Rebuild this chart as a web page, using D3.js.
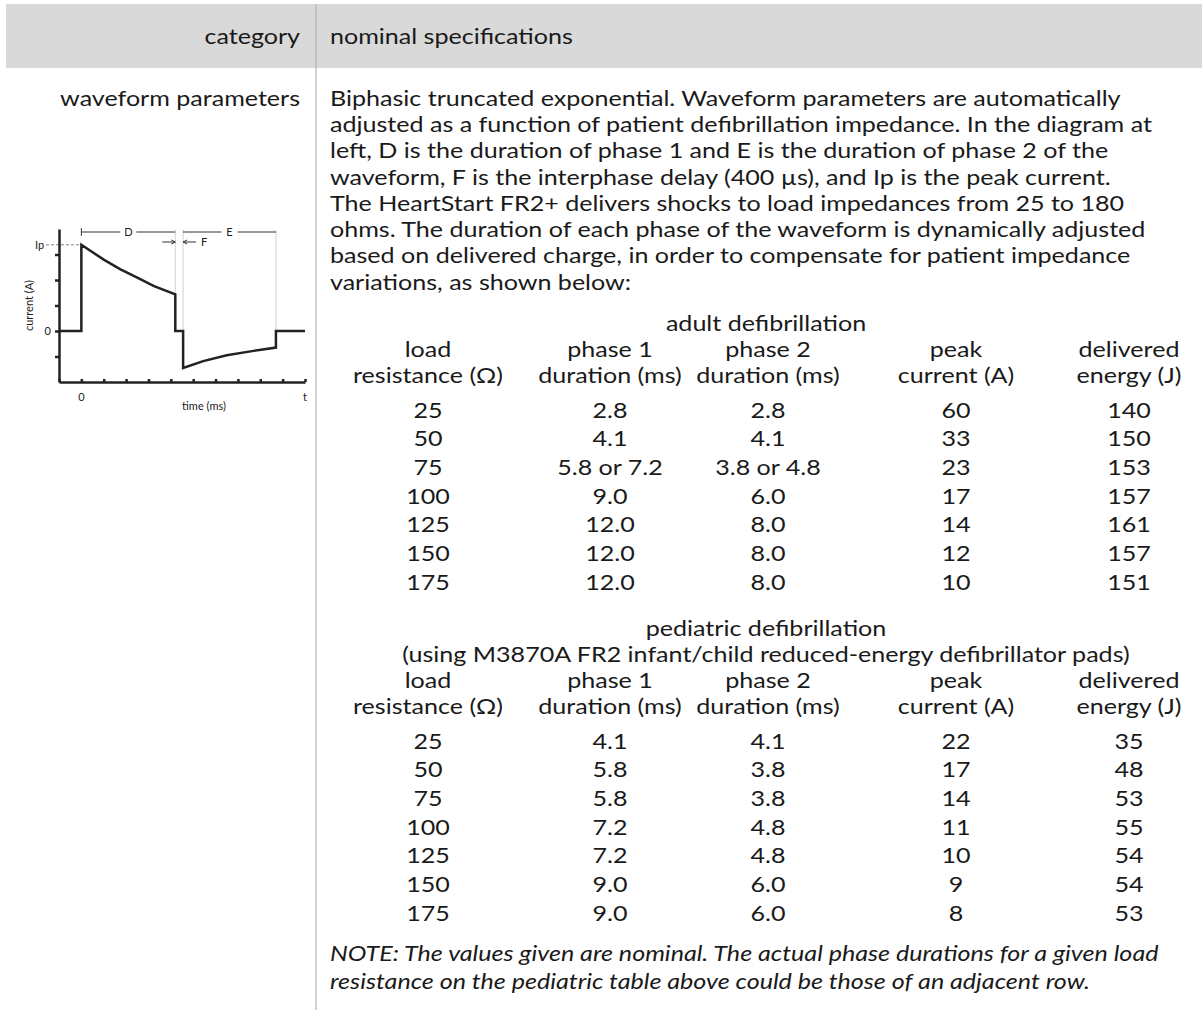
<!DOCTYPE html>
<html>
<head>
<meta charset="utf-8">
<script src="https://cdn.jsdelivr.net/npm/d3@7"></script>
<style>
    body { margin: 0; background: #fff; }
    text { font-family: Lato, "Open Sans", sans-serif; fill: #1a1a1a; }
</style>
</head>
<body>
<script>
/* ======================= Data ======================= */
var headerLeft = "category";
var headerRight = "nominal specifications";
var rowLabel = "waveform parameters";

var paragraph = [
    "Biphasic truncated exponential. Waveform parameters are automatically",
    "adjusted as a function of patient defibrillation impedance. In the diagram at",
    "left, D is the duration of phase 1 and E is the duration of phase 2 of the",
    "waveform, F is the interphase delay (400 µs), and Ip is the peak current.",
    "The HeartStart FR2+ delivers shocks to load impedances from 25 to 180",
    "ohms. The duration of each phase of the waveform is dynamically adjusted",
    "based on delivered charge, in order to compensate for patient impedance",
    "variations, as shown below:"
];

var colKeys = ["load", "phase1", "phase2", "peak", "energy"];
var colHead1 = ["load", "phase 1", "phase 2", "peak", "delivered"];
var colHead2 = ["resistance (Ω)", "duration (ms)", "duration (ms)", "current (A)", "energy (J)"];

var adultTitle = ["adult defibrillation"];
var adultLoad = [25, 50, 75, 100, 125, 150, 175];
var adultPhase1 = ["2.8", "4.1", "5.8 or 7.2", "9.0", "12.0", "12.0", "12.0"];
var adultPhase2 = ["2.8", "4.1", "3.8 or 4.8", "6.0", "8.0", "8.0", "8.0"];
var adultPeak = [60, 33, 23, 17, 14, 12, 10];
var adultEnergy = [140, 150, 153, 157, 161, 157, 151];

var pedTitle = ["pediatric defibrillation",
    "(using M3870A FR2 infant/child reduced-energy defibrillator pads)"];
var pedLoad = [25, 50, 75, 100, 125, 150, 175];
var pedPhase1 = ["4.1", "5.8", "5.8", "7.2", "7.2", "9.0", "9.0"];
var pedPhase2 = ["4.1", "3.8", "3.8", "4.8", "4.8", "6.0", "6.0"];
var pedPeak = [22, 17, 14, 11, 10, 9, 8];
var pedEnergy = [35, 48, 53, 55, 54, 54, 53];

var note = [
    "NOTE: The values given are nominal. The actual phase durations for a given load",
    "resistance on the pediatric table above could be those of an adjacent row."
];

// waveform diagram (time in tick units, current in tick units)
var waveT = [-1, 0, 0, 1, 1.75, 2.5, 3.25, 4.2, 4.2, 4.55, 4.55, 5.45, 6.5, 7.7, 8.7, 8.7, 10];
var waveI = [0, 0, 3.38, 2.8, 2.42, 2.09, 1.76, 1.44, 0, 0, -1.45, -1.18, -0.95, -0.78, -0.65, 0, 0];
var ipLevel = 3.38;
var phase1End = 4.2;
var phase2Start = 4.55;
var phase2End = 8.7;

/* ======================= Layout ======================= */
var w = 1202;
var h = 1011;
var fontSize = 22;
var stretch = 1.14;   // Gill Sans is wider than Lato at the same x-height
var divX = 316;
var headerFill = "#d9d9d9";
var dividerColor = "#b3b3b3";

var svg = d3.select("body")
    .append("svg")
    .attr("width", w)
    .attr("height", h);

// header band and divider
svg.append("rect")
    .attr("x", 6).attr("y", 4)
    .attr("width", w - 6).attr("height", 64)
    .attr("fill", headerFill);
svg.append("line")
    .attr("x1", divX).attr("x2", divX)
    .attr("y1", 4).attr("y2", 1010)
    .attr("stroke", dividerColor)
    .attr("stroke-width", 1.2);

function addText(x, y, str, anchor, size, italic) {
    return svg.append("text")
        .attr("transform", "translate(" + x + "," + y + ") scale(" + stretch + ",1)")
        .attr("dy", "0.35em")
        .attr("text-anchor", anchor)
        .attr("font-size", size)
        .attr("font-style", italic ? "italic" : "normal")
        .text(str);
}

addText(300, 36, headerLeft, "end", fontSize);
addText(330, 36, headerRight, "start", fontSize);
addText(300, 98, rowLabel, "end", fontSize);

// paragraph lines
var paraY = d3.scaleLinear().domain([0, paragraph.length - 1]).range([98, 282]);
paragraph.forEach(function (line, i) {
    addText(330, paraY(i), line, "start", fontSize);
});

/* ======================= Tables ======================= */
var colX = d3.scaleOrdinal()
    .domain(colKeys)
    .range([428, 610, 768, 956, 1129]);

function drawTable(titles, titleY, headY, rowTop, rowBottom, cols) {
    titles.forEach(function (t, i) {
        addText(766, titleY[i], t, "middle", fontSize);
    });
    colKeys.forEach(function (k, i) {
        addText(colX(k), headY[0], colHead1[i], "middle", fontSize);
        addText(colX(k), headY[1], colHead2[i], "middle", fontSize);
    });
    var rowY = d3.scalePoint()
        .domain(d3.range(cols[0].length))
        .range([rowTop, rowBottom]);
    colKeys.forEach(function (k, c) {
        svg.append("g").selectAll("text")
            .data(cols[c])
            .join("text")
            .attr("transform", function (d, i) {
                return "translate(" + colX(k) + "," + rowY(i) + ") scale(" + stretch + ",1)";
            })
            .attr("dy", "0.35em")
            .attr("text-anchor", "middle")
            .attr("font-size", fontSize)
            .text(function (d) { return d; });
    });
}

drawTable(adultTitle, [323], [349, 375], 410, 582,
    [adultLoad, adultPhase1, adultPhase2, adultPeak, adultEnergy]);
drawTable(pedTitle, [628, 654], [680, 706], 741, 913,
    [pedLoad, pedPhase1, pedPhase2, pedPeak, pedEnergy]);

note.forEach(function (line, i) {
    addText(330, 953 + i * 28, line, "start", fontSize, true);
});

/* ======================= Waveform diagram ======================= */
var xScale = d3.scaleLinear().domain([-1, 10]).range([59, 305]);
var yScale = d3.scaleLinear().domain([-2, 4]).range([382, 229]);
var axisColor = "#222";
var g = svg.append("g");

// dotted guides
var guideColor = "#8c8c8c";
[[phase1End, 1.44], [phase2Start, 0], [phase2End, 0]].forEach(function (p) {
    g.append("line")
        .attr("x1", xScale(p[0])).attr("x2", xScale(p[0]))
        .attr("y1", yScale(3.95)).attr("y2", yScale(p[1]))
        .attr("stroke", guideColor)
        .attr("stroke-width", 0.8)
        .attr("stroke-dasharray", "1,1");
});

// Ip dashed
g.append("line")
    .attr("x1", 46).attr("x2", xScale(0))
    .attr("y1", yScale(ipLevel)).attr("y2", yScale(ipLevel))
    .attr("stroke", "#666")
    .attr("stroke-width", 0.8)
    .attr("stroke-dasharray", "3,2");

// axes
var yAxis = d3.axisLeft(yScale)
    .tickValues([-1, 0, 1, 2, 3])
    .tickSize(4)
    .tickSizeOuter(0)
    .tickFormat("");
g.append("g")
    .attr("transform", "translate(" + xScale(-1) + ",0)")
    .call(yAxis)
    .call(function (s) {
        s.selectAll("path, line").attr("stroke", axisColor).attr("stroke-width", 2.5);
    });
var xAxis = d3.axisBottom(xScale)
    .tickValues(d3.range(-1, 11))
    .tickSize(-3)
    .tickSizeOuter(0)
    .tickFormat("");
g.append("g")
    .attr("transform", "translate(0," + yScale(-2) + ")")
    .call(xAxis)
    .call(function (s) {
        s.selectAll("path, line").attr("stroke", axisColor).attr("stroke-width", 2.5);
    });

// waveform
var wave = d3.line()
    .x(function (d, i) { return xScale(waveT[i]); })
    .y(function (d, i) { return yScale(waveI[i]); })
    .curve(d3.curveLinear);
g.append("path")
    .datum(waveT)
    .attr("d", wave)
    .attr("fill", "none")
    .attr("stroke", axisColor)
    .attr("stroke-width", 2.5)
    .attr("stroke-linejoin", "miter");

// D / E / F brackets
var bracketY = 232;
function bracket(x0, x1, label) {
    var mid = (xScale(x0) + xScale(x1)) / 2;
    g.append("line").attr("x1", xScale(x0)).attr("x2", mid - 8)
        .attr("y1", bracketY).attr("y2", bracketY).attr("stroke", "#333").attr("stroke-width", 1);
    g.append("line").attr("x1", mid + 8).attr("x2", xScale(x1))
        .attr("y1", bracketY).attr("y2", bracketY).attr("stroke", "#333").attr("stroke-width", 1);
    g.append("text").attr("x", mid).attr("y", bracketY).attr("dy", "0.35em")
        .attr("text-anchor", "middle").attr("font-size", 11).text(label);
}
bracket(0, phase1End, "D");
bracket(phase2Start, phase2End, "E");
g.append("line").attr("x1", xScale(0)).attr("x2", xScale(0))
    .attr("y1", bracketY - 4).attr("y2", bracketY + 4).attr("stroke", "#333").attr("stroke-width", 1);

// F arrows
var fY = 242;
g.append("path")
    .attr("d", "M" + (xScale(phase1End) - 13) + "," + fY + "H" + xScale(phase1End)
        + "M" + (xScale(phase1End) - 4) + "," + (fY - 2) + "L" + xScale(phase1End) + "," + fY
        + "L" + (xScale(phase1End) - 4) + "," + (fY + 2))
    .attr("fill", "none").attr("stroke", "#333").attr("stroke-width", 1);
g.append("path")
    .attr("d", "M" + (xScale(phase2Start) + 13) + "," + fY + "H" + xScale(phase2Start)
        + "M" + (xScale(phase2Start) + 4) + "," + (fY - 2) + "L" + xScale(phase2Start) + "," + fY
        + "L" + (xScale(phase2Start) + 4) + "," + (fY + 2))
    .attr("fill", "none").attr("stroke", "#333").attr("stroke-width", 1);
g.append("text").attr("x", xScale(phase2Start) + 18).attr("y", fY).attr("dy", "0.35em")
    .attr("font-size", 11).text("F");

// diagram labels
g.append("text").attr("x", 35).attr("y", yScale(ipLevel)).attr("dy", "0.35em")
    .attr("font-size", 11).text("Ip");
g.append("text").attr("x", 51).attr("y", yScale(0)).attr("dy", "0.35em")
    .attr("text-anchor", "end").attr("font-size", 11).text("0");
g.append("text")
    .attr("transform", "translate(29," + yScale(1) + ") rotate(-90)")
    .attr("dy", "0.35em")
    .attr("text-anchor", "middle").attr("font-size", 11).text("current (A)");
g.append("text").attr("x", xScale(0)).attr("y", 397).attr("dy", "0.35em")
    .attr("text-anchor", "middle").attr("font-size", 11).text("0");
g.append("text").attr("x", xScale(10)).attr("y", 397).attr("dy", "0.35em")
    .attr("text-anchor", "middle").attr("font-size", 11).text("t");
g.append("text").attr("x", 204).attr("y", 406).attr("dy", "0.35em")
    .attr("text-anchor", "middle").attr("font-size", 11).text("time (ms)");
</script>
</body>
</html>
